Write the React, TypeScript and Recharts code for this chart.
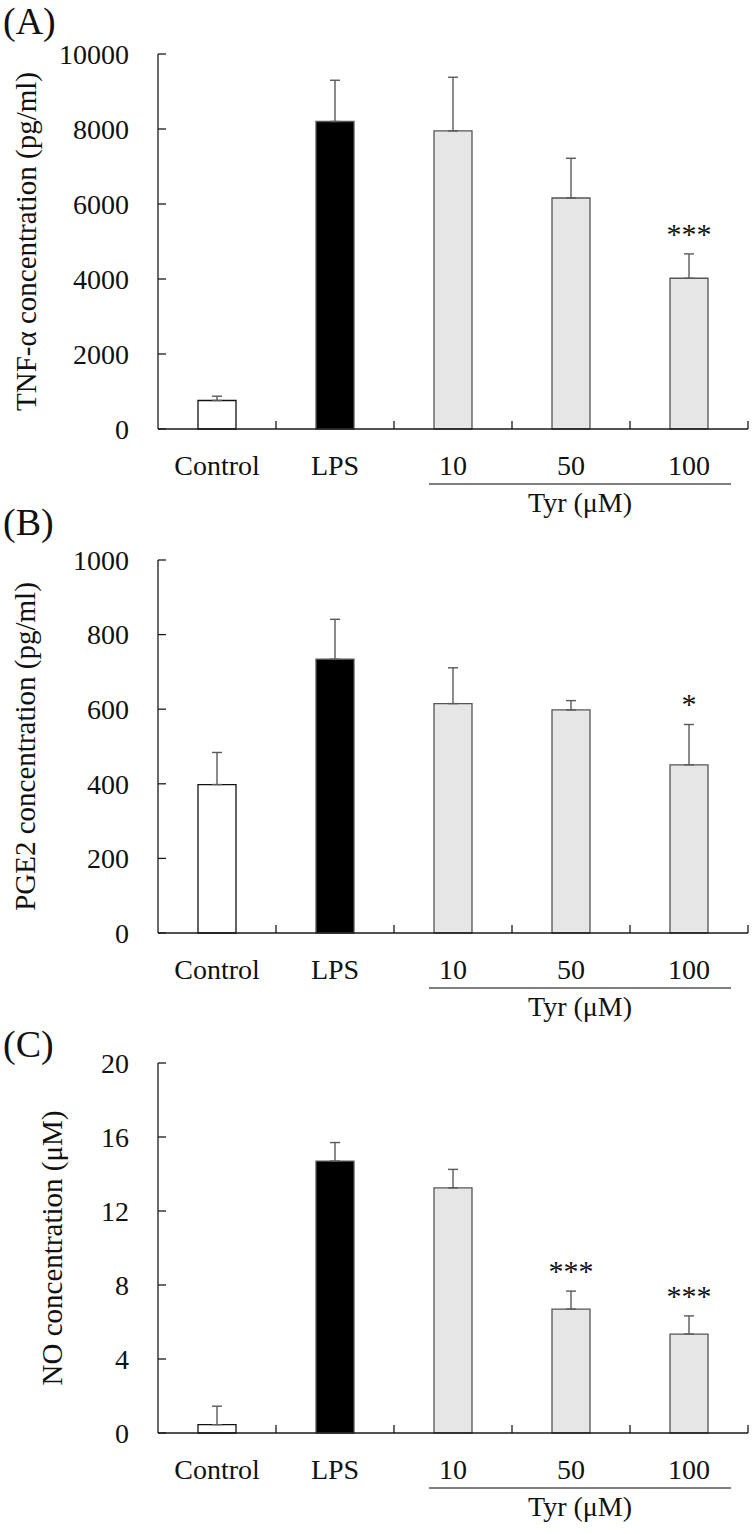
import { ComposedChart, Bar, Line, XAxis, YAxis, ErrorBar, Cell } from 'recharts';

const groups = ['Control', 'LPS', '10', '50', '100'];
const barFills = ['#ffffff', '#000000', '#e6e6e6', '#e6e6e6', '#e6e6e6'];

const tnfMean = [760, 8200, 7950, 6160, 4020];
const tnfErr = [115, 1100, 1430, 1060, 650];
const tnfSig = ['', '', '', '', '***'];
const tnfTicks = [0, 2000, 4000, 6000, 8000, 10000];

const pgeMean = [398, 734, 615, 598, 451];
const pgeErr = [86, 107, 96, 25, 108];
const pgeSig = ['', '', '', '', '*'];
const pgeTicks = [0, 200, 400, 600, 800, 1000];

const noMean = [0.45, 14.7, 13.25, 6.7, 5.35];
const noErr = [1.0, 1.0, 1.0, 0.97, 0.98];
const noSig = ['', '', '', '***', '***'];
const noTicks = [0, 4, 8, 12, 16, 20];

const SERIF = "'Liberation Serif', 'Times New Roman', serif";
const INK = '#1a1a1a';

function buildRows(mean: number[], err: number[], sig: string[]) {
  return groups.map((g, i) => ({
    group: g,
    mean: mean[i],
    err: [0, err[i]],
    sig: sig[i],
    sigY: sig[i] ? mean[i] + err[i] : null,
  }));
}

function YTick(props: any) {
  const { x, y, payload } = props;
  return (
    <g>
      <line x1={x} x2={x + 8} y1={y} y2={y} stroke={INK} strokeWidth={1.3} />
      <text x={x - 29} y={y} dy="0.35em" textAnchor="end" fontFamily={SERIF} fontSize={28} fill="#111">
        {payload.value}
      </text>
    </g>
  );
}

function XTick(props: any) {
  const { x, y, payload, index } = props;
  const half = payload.offset ?? 59;
  const bw = half * 2;
  return (
    <g>
      <line x1={x + half} x2={x + half} y1={y} y2={y - 8} stroke={INK} strokeWidth={1.3} />
      <text x={x} y={y + 46} textAnchor="middle" fontFamily={SERIF} fontSize={28} fill="#111">
        {payload.value}
      </text>
      {index === 3 && (
        <g>
          <line x1={x - bw - 24} x2={x + bw + 42} y1={y + 55} y2={y + 55} stroke="#555" strokeWidth={1.6} />
          <text x={x + 9} y={y + 83} textAnchor="middle" fontFamily={SERIF} fontSize={28} fill="#111">
            Tyr (μM)
          </text>
        </g>
      )}
    </g>
  );
}

function AxisTitle(props: any) {
  const { viewBox, text, bx } = props;
  const cy = viewBox.y + viewBox.height / 2;
  return (
    <text
      x={bx}
      y={cy}
      transform={`rotate(-90, ${bx}, ${cy})`}
      textAnchor="middle"
      fontFamily={SERIF}
      fontSize={29}
      fill="#111"
    >
      {text}
    </text>
  );
}

function SigMark(props: any) {
  const { cx, cy, payload, index } = props;
  if (cy == null || !payload.sig) return <g key={index} />;
  return (
    <text key={index} x={cx} y={cy - 10} textAnchor="middle" fontFamily={SERIF} fontSize={30} fill="#111">
      {payload.sig}
    </text>
  );
}

interface PanelProps {
  top: number;
  height: number;
  marginTop: number;
  axisHeight: number;
  rows: any[];
  ticks: number[];
  title: string;
  titleX: number;
  letter: string;
  letterTop: number;
}

function Panel({ top, height, marginTop, axisHeight, rows, ticks, title, titleX, letter, letterTop }: PanelProps) {
  return (
    <>
      <div style={{ position: 'absolute', left: 0, top }}>
        <ComposedChart
          width={756}
          height={height}
          data={rows}
          margin={{ top: marginTop, right: 8, bottom: 0, left: 0 }}
        >
          <XAxis
            dataKey="group"
            height={axisHeight}
            axisLine={{ stroke: INK, strokeWidth: 1.3 }}
            tickLine={false}
            tickSize={0}
            tickMargin={0}
            interval={0}
            tick={<XTick />}
          />
          <YAxis
            width={158}
            domain={[0, ticks[ticks.length - 1]]}
            ticks={ticks}
            interval={0}
            axisLine={{ stroke: INK, strokeWidth: 1.3 }}
            tickLine={false}
            tickSize={0}
            tickMargin={0}
            tick={<YTick />}
            label={<AxisTitle text={title} bx={titleX} />}
          />
          <Bar dataKey="mean" barSize={38} stroke="#444" strokeWidth={1.3} isAnimationActive={false}>
            {rows.map((r, i) => (
              <Cell key={r.group} fill={barFills[i]} stroke={i === 0 ? '#111' : '#555'} />
            ))}
            <ErrorBar dataKey="err" width={5} stroke="#5a5a5a" strokeWidth={1.4} direction="y" />
          </Bar>
          <Line
            dataKey="sigY"
            stroke="none"
            isAnimationActive={false}
            dot={(p: any) => <SigMark key={p.index} {...p} />}
            activeDot={false}
            legendType="none"
          />
        </ComposedChart>
      </div>
      <div
        style={{
          position: 'absolute', left: 3, top: letterTop, fontFamily: SERIF,
          fontSize: 38, lineHeight: 1, color: '#111',
        }}
      >
        {letter}
      </div>
    </>
  );
}

export default function App() {
  return (
    <div style={{ position: 'absolute', left: 0, top: 0, width: 756, height: 1534, background: '#fff' }}>
      <Panel
        top={0}
        height={527}
        marginTop={54}
        axisHeight={98}
        rows={buildRows(tnfMean, tnfErr, tnfSig)}
        ticks={tnfTicks}
        title="TNF-α concentration (pg/ml)"
        titleX={36}
        letter="(A)"
        letterTop={2}
      />
      <Panel
        top={515}
        height={517}
        marginTop={45}
        axisHeight={99}
        rows={buildRows(pgeMean, pgeErr, pgeSig)}
        ticks={pgeTicks}
        title="PGE2 concentration (pg/ml)"
        titleX={35}
        letter="(B)"
        letterTop={503}
      />
      <Panel
        top={1020}
        height={514}
        marginTop={43}
        axisHeight={101}
        rows={buildRows(noMean, noErr, noSig)}
        ticks={noTicks}
        title="NO concentration (μM)"
        titleX={62}
        letter="(C)"
        letterTop={1025}
      />
    </div>
  );
}
